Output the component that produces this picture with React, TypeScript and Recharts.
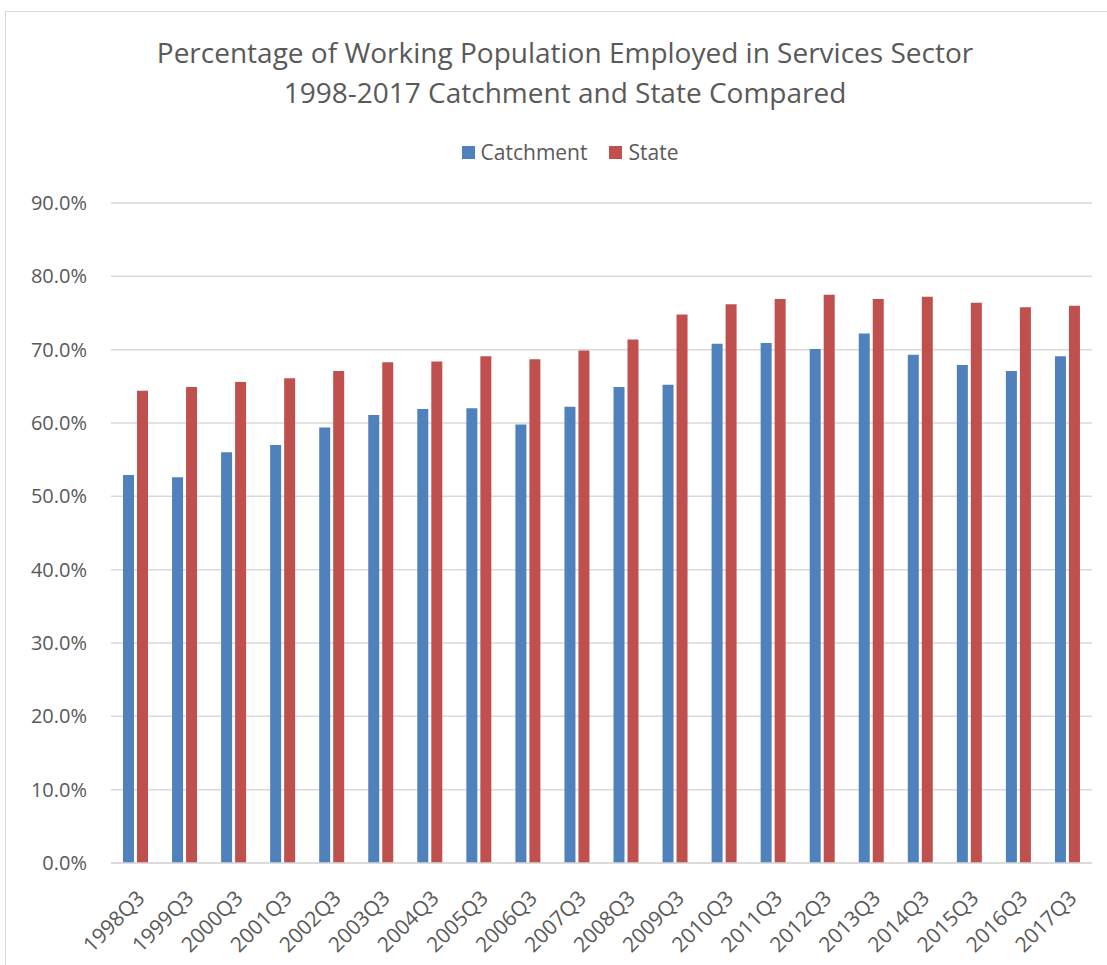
import { BarChart, Bar, XAxis, YAxis, CartesianGrid, Legend } from "recharts";

const quarters = [
  "1998Q3", "1999Q3", "2000Q3", "2001Q3", "2002Q3", "2003Q3", "2004Q3",
  "2005Q3", "2006Q3", "2007Q3", "2008Q3", "2009Q3", "2010Q3", "2011Q3",
  "2012Q3", "2013Q3", "2014Q3", "2015Q3", "2016Q3", "2017Q3",
];

const catchment = [
  52.9, 52.6, 56.0, 57.0, 59.4, 61.1, 61.9, 62.0, 59.8, 62.2,
  64.9, 65.2, 70.8, 70.9, 70.1, 72.2, 69.3, 67.9, 67.1, 69.1,
];

const state = [
  64.4, 64.9, 65.6, 66.1, 67.1, 68.3, 68.4, 69.1, 68.7, 69.9,
  71.4, 74.8, 76.2, 76.9, 77.5, 76.9, 77.2, 76.4, 75.8, 76.0,
];

const yTicks = [0, 10, 20, 30, 40, 50, 60, 70, 80, 90];

const series = [
  { key: "Catchment", color: "#4f81bd" },
  { key: "State", color: "#c0504d" },
];

const data = quarters.map((q, i) => ({
  quarter: q,
  Catchment: catchment[i],
  State: state[i],
}));

const font = "'Open Sans', sans-serif";
const grey = "#595959";

function LegendBox() {
  return (
    <div style={{ display: "flex", justifyContent: "center", alignItems: "center", gap: 22 }}>
      {series.map((s) => (
        <div key={s.key} style={{ display: "flex", alignItems: "center", gap: 6 }}>
          <span style={{ display: "inline-block", width: 13, height: 13, background: s.color }} />
          <span style={{ color: grey, fontSize: 21, fontFamily: font, lineHeight: "26px" }}>{s.key}</span>
        </div>
      ))}
    </div>
  );
}

export default function App() {
  return (
    <div style={{ position: "absolute", left: 0, top: 0, width: 1107, height: 965, fontFamily: font }}>
      <style>{`body{margin:0;overflow:hidden}`}</style>
      <div
        style={{
          position: "absolute",
          left: 5,
          top: 11,
          width: 1102,
          height: 954,
          borderTop: "1px solid #d9d9d9",
          borderLeft: "1px solid #d9d9d9",
          boxSizing: "border-box",
        }}
      />
      <div
        style={{
          position: "absolute",
          left: 0,
          top: 32,
          width: 1130,
          textAlign: "center",
          color: grey,
          fontSize: 28,
          lineHeight: "40px",
        }}
      >
        <div>Percentage of Working Population Employed in Services Sector</div>
        <div>1998-2017 Catchment and State Compared</div>
      </div>
      <BarChart
        width={1107}
        height={965}
        data={data}
        margin={{ top: 203, right: 15, bottom: 0, left: 0 }}
        barSize={11}
        barGap={3}
        style={{ position: "absolute", left: 0, top: 0 }}
      >
        <CartesianGrid vertical={false} stroke="#d9d9d9" strokeWidth={1.5} />
        <XAxis
          dataKey="quarter"
          height={102}
          interval={0}
          angle={-45}
          textAnchor="end"
          tickLine={false}
          axisLine={{ stroke: "#d9d9d9", strokeWidth: 1.5 }}
          tick={{ fill: grey, fontSize: 21, fontFamily: font }}
          tickMargin={20}
        />
        <YAxis
          width={111}
          domain={[0, 90]}
          ticks={yTicks}
          tickFormatter={(v: number) => `${v.toFixed(1)}%`}
          axisLine={false}
          tickLine={false}
          tickSize={0}
          tickMargin={24}
          tick={{ fill: grey, fontSize: 20, fontFamily: font }}
        />
        <Legend
          verticalAlign="middle"
          content={() => <LegendBox />}
          wrapperStyle={{ position: "absolute", top: 139, left: 0, width: 1140 }}
        />
        {series.map((s) => (
          <Bar key={s.key} dataKey={s.key} fill={s.color} isAnimationActive={false} />
        ))}
      </BarChart>
    </div>
  );
}
